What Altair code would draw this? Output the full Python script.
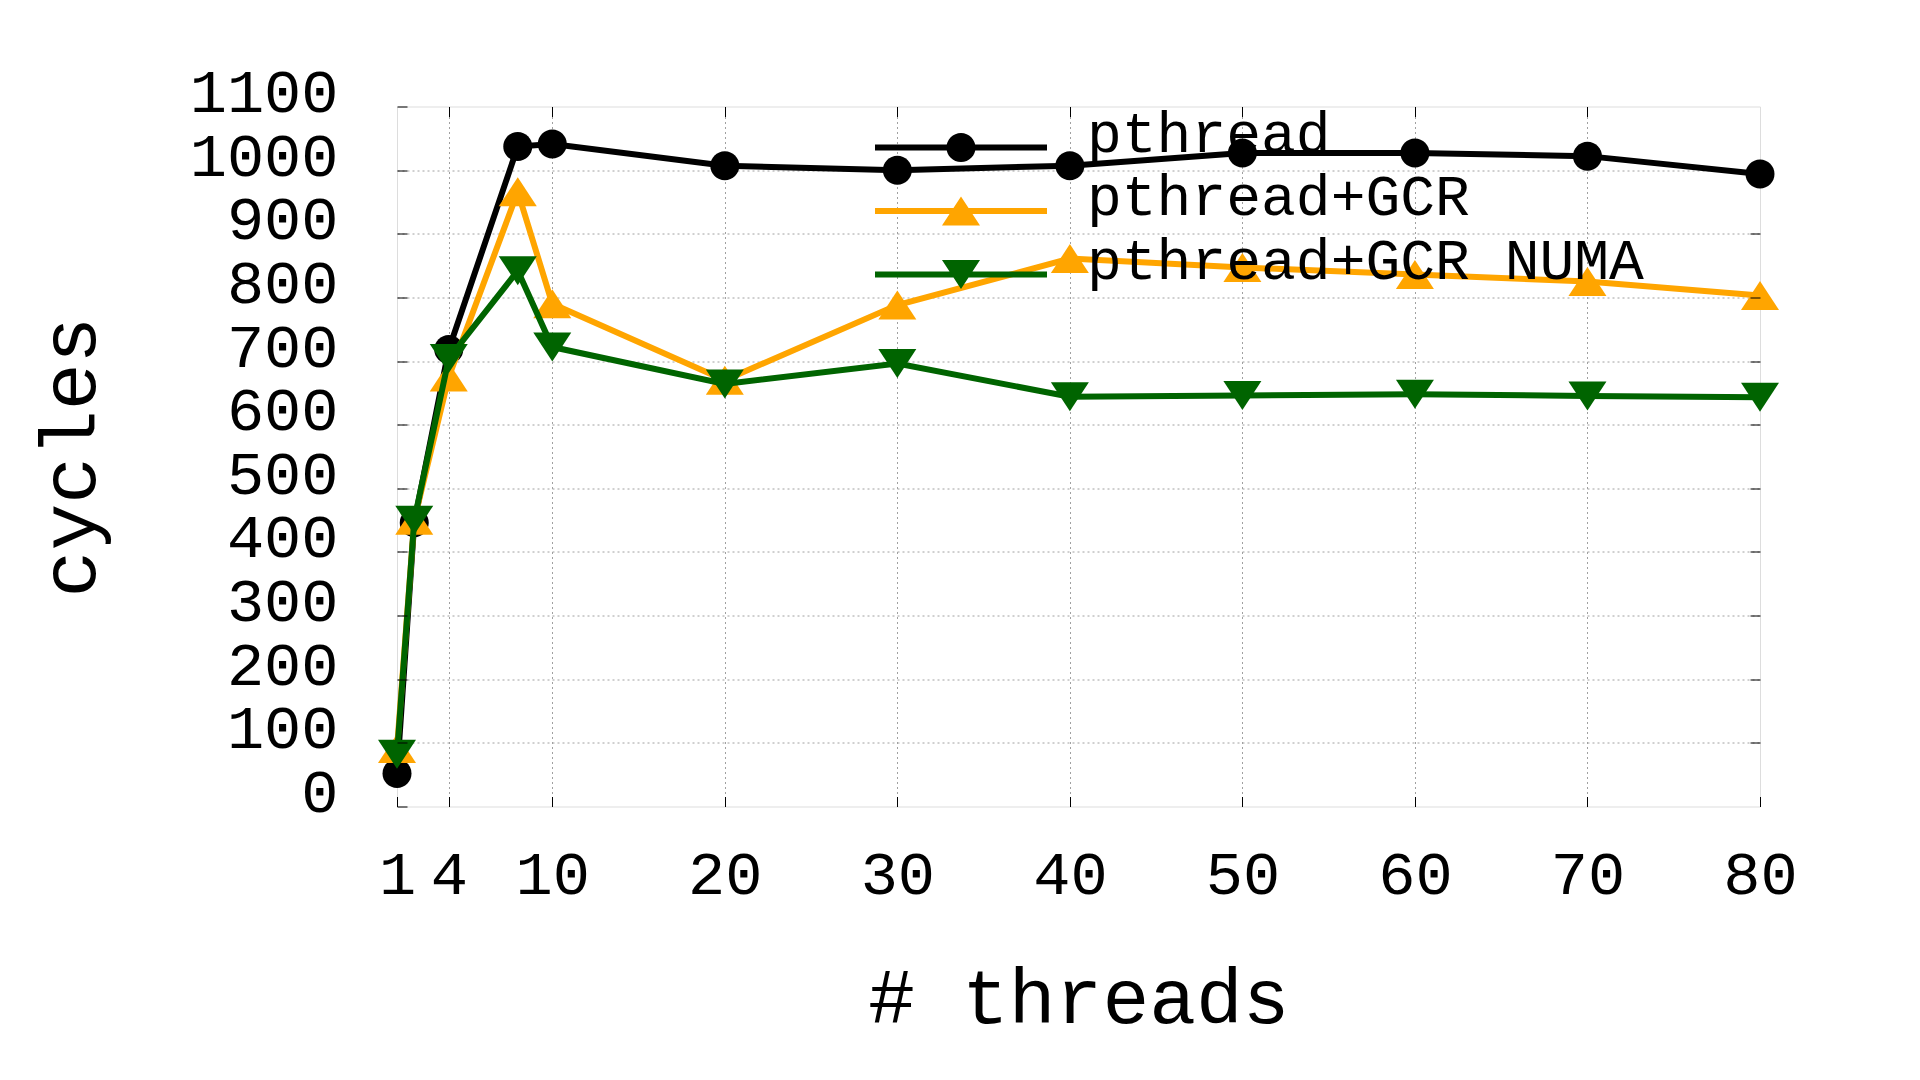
import altair as alt
import pandas as pd

# ---- data ----
threads = [1, 2, 4, 8, 10, 20, 30, 40, 50, 60, 70, 80]
pthread = [52, 446, 718, 1037, 1041, 1007, 1000, 1007, 1027, 1027, 1022, 994]
pthread_gcr = [91, 450, 675, 966, 790, 670, 788, 861, 847, 836, 825, 803]
pthread_gcr_numa = [82, 450, 704, 842, 722, 664, 696, 644, 646, 648, 645, 643]

series_names = ["pthread", "pthread+GCR", "pthread+GCR NUMA"]
series_values = [pthread, pthread_gcr, pthread_gcr_numa]
series_colors = ["#000000", "#ffa500", "#006400"]

x_label_ticks = [1, 4, 10, 20, 30, 40, 50, 60, 70, 80]
x_grid_ticks = [4, 10, 20, 30, 40, 50, 60, 70]
y_label_ticks = list(range(0, 1101, 100))
y_grid_ticks = list(range(100, 1001, 100))

rows = []
for name, vals in zip(series_names, series_values):
    for t, v in zip(threads, vals):
        rows.append({"threads": t, "cycles": v, "series": name})
df = pd.DataFrame(rows)

FONT = "Liberation Mono"

# marker shapes (custom symbol paths)
marker_paths = [
    "M0.725,0A0.725,0.725 0 1 1 -0.725,0A0.725,0.725 0 1 1 0.725,0Z",
    "M0,-0.725L0.95,0.725L-0.95,0.725Z",
    "M-0.95,-0.725L0.95,-0.725L0,0.725Z",
]
# legend symbols: a line with the marker in its middle (raised slightly vs. label row)
bar = "M-1,-0.082L1,-0.082L1,-0.012L-1,-0.012Z"
legend_paths = [
    bar + "M0.169,-0.047A0.169,0.169 0 1 1 -0.169,-0.047A0.169,0.169 0 1 1 0.169,-0.047Z",
    bar + "M0,-0.216L0.221,0.122L-0.221,0.122Z",
    bar + "M-0.221,-0.216L0.221,-0.216L0,0.122Z",
]

xscale = alt.Scale(domain=[1, 80], nice=False, zero=False)
yscale = alt.Scale(domain=[0, 1100], nice=False, zero=False)

grid_common = dict(grid=True, gridColor="#a0a0a0", gridDash=[2, 3], gridWidth=1,
                   ticks=False, labels=False, domain=False, title=None)
AX_GRID = alt.Axis(orient="bottom", values=x_grid_ticks, **grid_common)
AY_GRID = alt.Axis(orient="left", values=y_grid_ticks, **grid_common)

tick_common = dict(grid=False, ticks=True, tickSize=10, tickColor="black", tickWidth=1,
                   domain=False, offset=-10, zindex=1)
AX_MAIN = alt.Axis(
    orient="bottom", values=x_label_ticks, format="d", labels=True, labelFont=FONT,
    labelFontSize=62, labelColor="black", labelPadding=87, labelBaseline="alphabetic",
    labelFlush=False, labelOverlap=False, labelAngle=0, labelLimit=500,
    title="# threads", titleFont=FONT, titleFontSize=78,
    titleFontWeight="normal", titleColor="black", titleBaseline="alphabetic", titleY=226,
    **tick_common)
AY_MAIN = alt.Axis(
    orient="left", values=y_label_ticks, format="d", labels=True, labelFont=FONT,
    labelFontSize=62, labelColor="black", labelPadding=59, labelAlign="right",
    labelBaseline="alphabetic", labelOffset=5, labelFlush=False, labelOverlap=False,
    labelLimit=500, title="cycles", titleFont=FONT,
    titleFontSize=78, titleFontWeight="normal", titleColor="black", titleAngle=270,
    titleAlign="center", titleBaseline="alphabetic", titleX=-313, titleY=350,
    **tick_common)
AX_TOP = alt.Axis(orient="top", values=x_grid_ticks, labels=False, title=None, **tick_common)
AY_RIGHT = alt.Axis(orient="right", values=y_grid_ticks, labels=False, title=None, **tick_common)

axis_pairs = [(AX_GRID, AY_GRID), (AX_MAIN, AY_MAIN), (AX_TOP, AY_RIGHT)]

base = alt.Chart(df)
layers = []
k = 0
for name, color, path in zip(series_names, series_colors, marker_paths):
    for kind in ("line", "point"):
        ax, ay = axis_pairs[k] if k < len(axis_pairs) else (None, None)
        k += 1
        enc = dict(
            x=alt.X("threads:Q", scale=xscale, axis=ax),
            y=alt.Y("cycles:Q", scale=yscale, axis=ay),
        )
        if kind == "line":
            m = base.mark_line(color=color, strokeWidth=6, strokeJoin="miter")
        else:
            m = base.mark_point(filled=True, shape=path, size=1600, color=color,
                                opacity=1, strokeWidth=0)
        layers.append(m.encode(**enc).transform_filter(alt.datum.series == name))

LEG = alt.Legend(
    orient="none", legendX=478, legendY=13.5, title=None, padding=0, offset=0,
    labelFont=FONT, labelFontSize=58, labelColor="black", labelBaseline="alphabetic",
    labelOffset=40, labelLimit=2000, clipHeight=63, rowPadding=-14.5,
    symbolSize=29584, symbolStrokeWidth=0,
)
legend_layer = base.mark_point(filled=True, opacity=1, size=29584).encode(
    color=alt.Color("series:N", scale=alt.Scale(domain=series_names, range=series_colors), legend=LEG),
    shape=alt.Shape("series:N", scale=alt.Scale(domain=series_names, range=legend_paths), legend=LEG),
).transform_filter("false")
layers.append(legend_layer)

chart = alt.layer(*layers).resolve_axis(x="independent", y="independent").properties(
    width=1363, height=700,
    autosize=alt.AutoSizeParams(type="none"),
    padding={"left": 389, "top": 98.5, "right": 140, "bottom": 265},
    background="white",
).configure_view(stroke="black", strokeWidth=1).configure(font=FONT)

chart.save("out.html", embed_options={"renderer": "svg", "actions": False})
